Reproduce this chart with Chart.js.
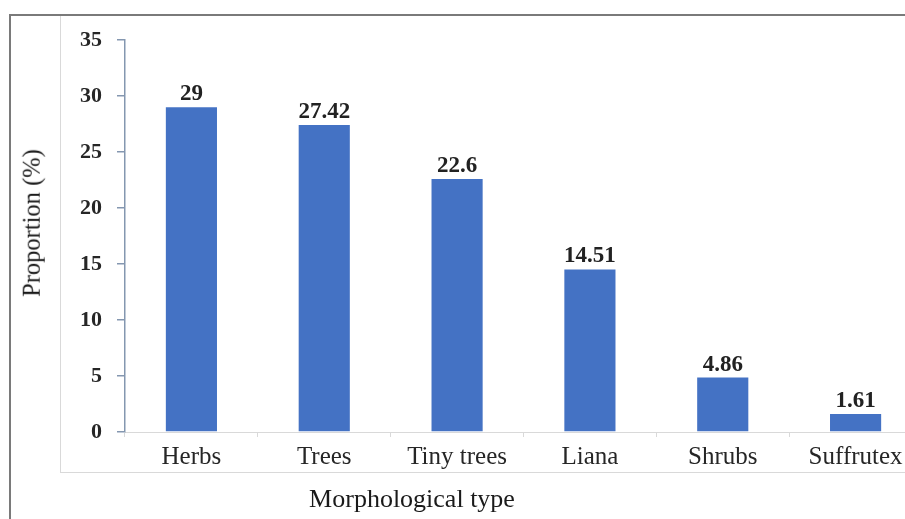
<!DOCTYPE html>
<html>
<head>
<meta charset="utf-8">
<script src="https://cdn.jsdelivr.net/npm/chart.js@4/dist/chart.umd.min.js"></script>
<style>
  html, body { margin: 0; padding: 0; background: #fff; overflow: hidden; width: 905px; height: 519px; }
  #wrap { position: relative; width: 905px; height: 519px; overflow: hidden; }
  #c { position: absolute; left: 0; top: 0; }
  .frameTop { position: absolute; left: 9px; top: 14px; width: 896px; height: 2px; background: #7a7a7a; }
  .frameLeft { position: absolute; left: 9px; top: 14px; width: 2px; height: 505px; background: #7a7a7a; }
  .innerV { position: absolute; left: 60px; top: 16px; width: 1px; height: 457px; background: #d9d9d9; }
  .innerH { position: absolute; left: 60px; top: 472px; width: 845px; height: 1px; background: #d9d9d9; }
  .xtitle { position: absolute; left: 412px; top: 486px; transform: translateX(-50%); font-family: "Liberation Serif", "Times New Roman", serif; font-size: 26px; line-height: 1; color: #1a1a1a; white-space: nowrap; }
  .ytitle { position: absolute; left: 32px; top: 223px; transform: translate(-50%, -50%) rotate(-90deg); font-family: "Liberation Serif", "Times New Roman", serif; font-size: 24.5px; line-height: 1; color: #1a1a1a; white-space: nowrap; }
</style>
</head>
<body>
<div id="wrap">
  <div class="frameTop"></div>
  <div class="frameLeft"></div>
  <div class="innerV"></div>
  <div class="innerH"></div>
  <canvas id="c" width="925" height="519"></canvas>
  <div class="xtitle">Morphological type</div>
  <div class="ytitle">Proportion (%)</div>
</div>
<script>
const categories = ["Herbs", "Trees", "Tiny trees", "Liana", "Shrubs", "Suffrutex"];
const proportions = [29, 27.42, 22.6, 14.51, 4.86, 1.61];
const yTicks = [0, 5, 10, 15, 20, 25, 30, 35];

const FONT = '"Liberation Serif", "Times New Roman", serif';

const valueLabels = {
  id: 'valueLabels',
  afterDatasetsDraw(chart) {
    const ctx = chart.ctx;
    const meta = chart.getDatasetMeta(0);
    const data = chart.data.datasets[0].data;
    ctx.save();
    ctx.font = 'bold 23px ' + FONT;
    ctx.fillStyle = '#222222';
    ctx.textAlign = 'center';
    ctx.textBaseline = 'alphabetic';
    meta.data.forEach((bar, i) => {
      ctx.fillText(String(data[i]), bar.x, bar.y - 7);
    });
    ctx.restore();
  }
};

new Chart(document.getElementById('c'), {
  type: 'bar',
  data: {
    labels: categories,
    datasets: [{
      data: proportions,
      backgroundColor: '#4472C4',
      borderWidth: 0,
      barPercentage: 0.385,
      categoryPercentage: 1.0
    }]
  },
  options: {
    responsive: false,
    animation: false,
    devicePixelRatio: 1,
    layout: { padding: { top: 40, right: 3, bottom: 0, left: 0 } },
    plugins: { legend: { display: false }, tooltip: { enabled: false }, title: { display: false } },
    scales: {
      x: {
        offset: true,
        grid: { display: true, drawOnChartArea: false, drawTicks: true, tickLength: 5, color: '#d9d9d9', offset: true },
        border: { display: true, color: '#d9d9d9', width: 1 },
        ticks: { font: { family: FONT, size: 25 }, color: '#262626', padding: 5, maxRotation: 0, autoSkip: false },
        afterFit(scale) { scale.height = 87; }
      },
      y: {
        min: 0,
        max: 35,
        afterBuildTicks(scale) { scale.ticks = yTicks.map(v => ({ value: v })); },
        grid: { display: true, drawOnChartArea: false, drawTicks: true, tickLength: 8, color: '#8497B0', lineWidth: 1.5 },
        border: { display: true, color: '#8497B0', width: 1.5 },
        ticks: { font: { family: FONT, size: 22, weight: 'bold' }, color: '#262626', padding: 15 },
        afterFit(scale) { scale.width = 125; }
      }
    }
  },
  plugins: [valueLabels]
});
</script>
</body>
</html>
